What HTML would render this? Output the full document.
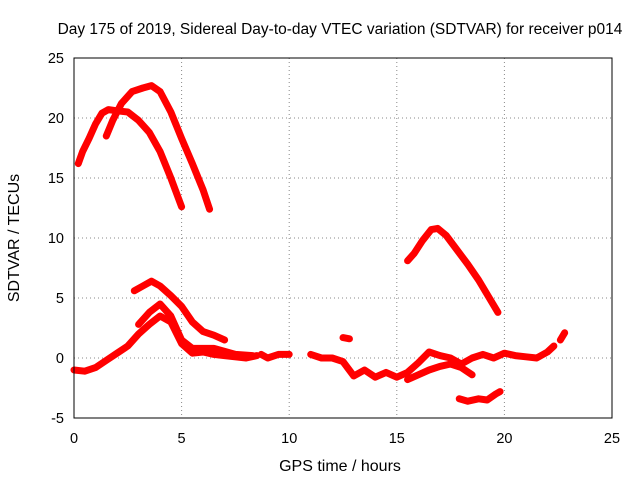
<!DOCTYPE html>
<html><head><meta charset="utf-8"><style>
body{margin:0;background:#fff;}
svg{display:block;font-family:"Liberation Sans",sans-serif;}
</style></head><body>
<svg id="chart" width="640" height="480">
<text x="340" y="34" text-anchor="middle" font-size="15.5">Day 175 of 2019, Sidereal Day-to-day VTEC variation (SDTVAR) for receiver p014</text>
<text x="340" y="471" text-anchor="middle" font-size="16">GPS time / hours</text>
<text transform="translate(19,238) rotate(-90)" text-anchor="middle" font-size="16">SDTVAR / TECUs</text>
<g id="grid"></g><g id="ticks"></g><g id="series"></g>
<rect x="74" y="58" width="538" height="360" fill="none" stroke="#000"/>
</svg>
<script>
const xTicks=[0,5,10,15,20,25];
const yTicks=[-5,0,5,10,15,20,25];
const seriesA=[[0.2,16.2],[0.4,17.2],[0.7,18.3],[1.0,19.5],[1.3,20.4],[1.6,20.7],[2.0,20.6],[2.5,20.5],[3.0,19.8],[3.5,18.8],[4.0,17.2],[4.5,15.0],[5.0,12.6]];
const seriesB=[[1.5,18.5],[1.8,19.8],[2.2,21.2],[2.7,22.2],[3.2,22.5],[3.6,22.7],[4.0,22.2],[4.5,20.5],[5.0,18.3],[5.5,16.2],[6.0,14.0],[6.3,12.4]];
const seriesC=[[15.5,8.1],[15.8,8.7],[16.2,9.8],[16.6,10.7],[16.9,10.8],[17.3,10.2],[17.8,9.0],[18.3,7.8],[18.8,6.5],[19.3,5.0],[19.7,3.8]];
const seriesD=[[2.8,5.6],[3.2,6.0],[3.6,6.4],[4.0,6.0],[4.5,5.2],[5.0,4.3],[5.5,3.0],[6.0,2.2],[6.5,1.9],[7.0,1.5]];
const seriesE=[[0,-1],[0.5,-1.1],[1,-0.8],[1.5,-0.2],[2,0.4],[2.5,1.0],[3,2.0],[3.5,2.8],[4,3.5],[4.5,3.0],[5,1.2],[5.5,0.4],[6,0.5],[6.5,0.3],[7,0.2],[8,0],[8.5,0.2]];
const seriesE2=[[3,2.8],[3.5,3.8],[4,4.5],[4.5,3.5],[5,1.5],[5.5,0.8],[6.5,0.8],[7.5,0.3],[8.3,0.2]];
const seriesF=[[8.7,0.3],[9.0,0],[9.5,0.3],[10,0.3]];
const seriesG=[[11,0.3],[11.5,0],[12,0],[12.5,-0.3],[13,-1.5],[13.5,-1.0],[14,-1.6],[14.5,-1.2],[15,-1.6],[15.5,-1.2],[16,-0.4],[16.5,0.5],[17,0.2],[17.5,0],[18,-0.5],[18.5,0],[19,0.3],[19.5,0],[20,0.4],[20.5,0.2],[21,0.1],[21.5,0],[22,0.5],[22.3,1.0]];
const seriesH=[[15.5,-1.8],[16,-1.4],[16.5,-1.0],[17,-0.7],[17.5,-0.5],[18,-0.8],[18.5,-1.4]];
const seriesI=[[17.9,-3.4],[18.3,-3.6],[18.8,-3.4],[19.2,-3.5],[19.6,-3.0],[19.8,-2.8]];
const seriesJ=[[12.5,1.7],[12.8,1.6]];
const seriesK=[[22.6,1.5],[22.8,2.1]];
const allSeries=[seriesA,seriesB,seriesC,seriesD,seriesE,seriesE2,seriesF,seriesG,seriesH,seriesI,seriesJ,seriesK];
const NS="http://www.w3.org/2000/svg";
const X0=74,X1=612,Y0=418,Y1=58;
const sx=v=>X0+(v-0)/(25-0)*(X1-X0);
const sy=v=>Y0-(v+5)/(25+5)*(Y0-Y1);
const grid=document.getElementById('grid'),ticks=document.getElementById('ticks'),ser=document.getElementById('series');
function mk(t,a,p){const e=document.createElementNS(NS,t);for(const k in a)e.setAttribute(k,a[k]);p.appendChild(e);return e;}
xTicks.forEach(v=>{
  const g=mk('line',{x1:sx(v),x2:sx(v),y1:Y1,y2:Y0,stroke:'#888','stroke-dasharray':'1,3'},grid);
  
  
  const t=mk('text',{x:sx(v),y:Y0+25,'text-anchor':'middle','font-size':14.5},ticks);
  t.textContent=v;
  
  
});
yTicks.forEach(v=>{
  const g=mk('line',{x1:X0,x2:X1,y1:sy(v),y2:sy(v),stroke:'#888','stroke-dasharray':'1,3'},grid);
  
  
  const t=mk('text',{x:X0-10,y:sy(v)+5,'text-anchor':'end','font-size':14.5},ticks);
  t.textContent=v;
  
  
});
allSeries.forEach(s=>{
  const p=mk('polyline',{points:s.map(d=>sx(d[0])+','+sy(d[1])).join(' '),fill:'none',stroke:'#ff0000','stroke-width':7,'stroke-linecap':'round','stroke-linejoin':'round'},ser);
  
  
});
</script>
</body></html>
